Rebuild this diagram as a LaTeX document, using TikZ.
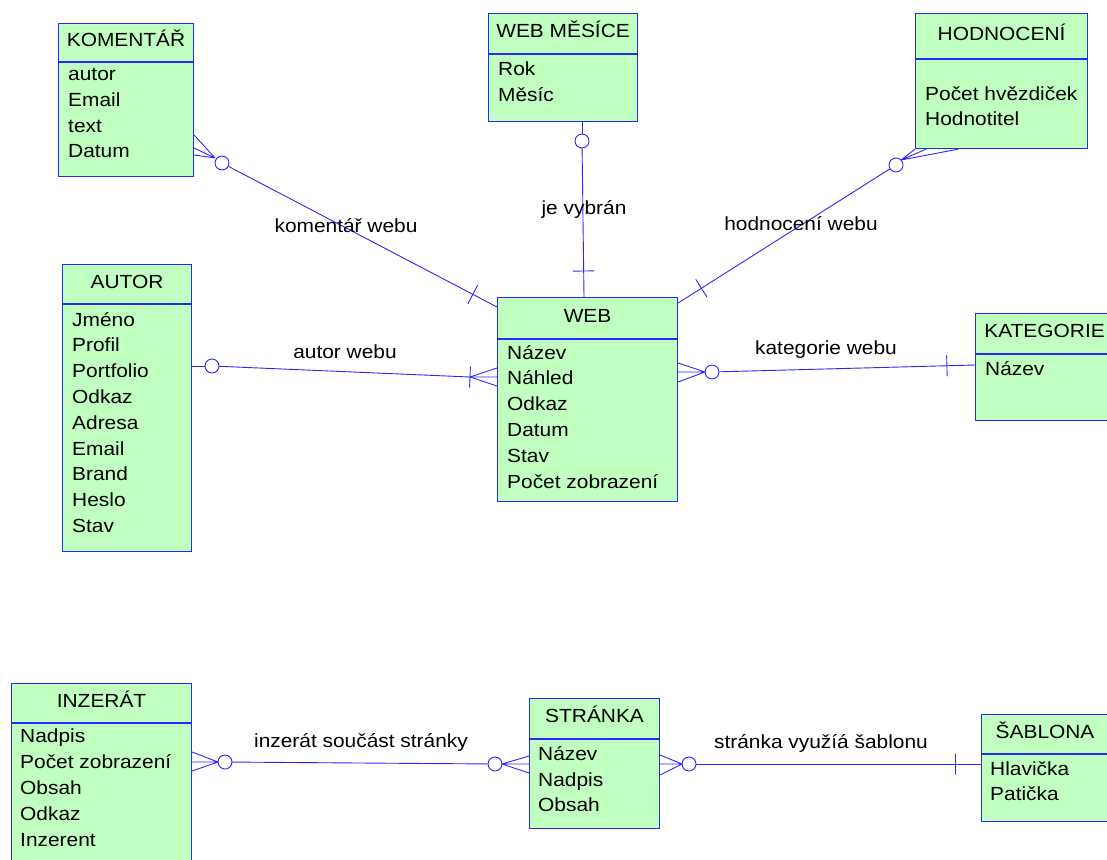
\documentclass[tikz,border=0pt]{standalone}
\usepackage{fontspec}
\setmainfont{Liberation Sans}[FakeStretch=1.1]
\usetikzlibrary{calc}
\definecolor{erblue}{RGB}{40,40,255}
\definecolor{ergreen}{RGB}{192,255,192}

\begin{document}
\begin{tikzpicture}[x=1pt,y=-1pt,
head/.style ={rectangle, draw=erblue, fill=ergreen, line width=1.1pt,
  anchor=north west, inner sep=0pt, text height=12pt, text depth=4pt,
  font=\fontsize{19}{26}\selectfont
},
body/.style ={rectangle, draw=erblue, fill=ergreen, line width=1.1pt,
  anchor=north west, inner sep=0pt
},
attr/.style ={anchor=north west, inner sep=0pt, align=left,
  font=\fontsize{19}{25.8}\selectfont
},
zero/.style ={circle, draw=erblue, fill=white, line width=0.9pt,
  minimum size=14pt, inner sep=0pt
},
rel/.style ={draw=erblue, line width=0.9pt},
bar/.style ={draw=erblue, line width=0.9pt, sloped,
  minimum width=0pt, minimum height=21pt, inner sep=0pt
},
lbl/.style ={font=\fontsize{19}{26}\selectfont, inner sep=0pt}
]
\useasboundingbox (0,0) rectangle (1107,859);
\clip (0,0) rectangle (1107,859);

% entities
\node (komh) at (58,23) [head, minimum width=135pt, minimum height=38pt] {KOMENTÁŘ};
\node (kom) at (komh.south west) [body, minimum width=135pt, minimum height=114pt] {};
\node (koma) at (68,68) [attr] {autor\\Email\\text\\Datum};

\node (webmh) at (488,13) [head, minimum width=149pt, minimum height=40pt] {WEB MĚSÍCE};
\node (webm) at (webmh.south west) [body, minimum width=149pt, minimum height=67pt] {};
\node (webma) at (498,62) [attr] {Rok\\Měsíc};

\node (hodh) at (915,13) [head, minimum width=172pt, minimum height=45pt] {HODNOCENÍ};
\node (hod) at (hodh.south west) [body, minimum width=172pt, minimum height=89pt] {};
\node (hoda) at (925,86) [attr] {Počet hvězdiček\\Hodnotitel};

\node (auth) at (62,264) [head, minimum width=129pt, minimum height=39pt] {AUTOR};
\node (aut) at (auth.south west) [body, minimum width=129pt, minimum height=247pt] {};
\node (auta) at (72,312) [attr] {Jméno\\Profil\\Portfolio\\Odkaz\\Adresa\\Email\\Brand\\Heslo\\Stav};

\node (webh) at (497,297) [head, minimum width=180pt, minimum height=41pt] {WEB};
\node (web) at (webh.south west) [body, minimum width=180pt, minimum height=162pt] {};
\node (weba) at (507,345) [attr] {Název\\Náhled\\Odkaz\\Datum\\Stav\\Počet zobrazení};

\node (kath) at (975,313) [head, minimum width=138pt, minimum height=40pt] {KATEGORIE};
\node (kat) at (kath.south west) [body, minimum width=138pt, minimum height=66pt] {};
\node (kata) at (985,361) [attr] {Název};

\node (inzh) at (11,683) [head, minimum width=180pt, minimum height=39pt] {INZERÁT};
\node (inz) at (inzh.south west) [body, minimum width=180pt, minimum height=150pt] {};
\node (inza) at (20,729) [attr] {Nadpis\\Počet zobrazení\\Obsah\\Odkaz\\Inzerent};

\node (strh) at (529,698) [head, minimum width=130pt, minimum height=40pt] {STRÁNKA};
\node (str) at (strh.south west) [body, minimum width=130pt, minimum height=89pt] {};
\node (stra) at (538,746) [attr] {Název\\Nadpis\\Obsah};

\node (sabh) at (981,714) [head, minimum width=127pt, minimum height=39pt] {ŠABLONA};
\node (sab) at (sabh.south west) [body, minimum width=127pt, minimum height=67pt] {};
\node (saba) at (990,761) [attr] {Hlavička\\Patička};

% komentar webu
\node (z1) at (222,163) [zero] {};
\coordinate (k1) at (215,158);
\draw[rel] (z1) -- (webh.west |- 0,307) node[pos=0.91, bar] {};
\draw[rel] (kom.east |- 0,135) -- (k1) (kom.east |- 0,148) -- (k1) (kom.east |- 0,155) -- (k1);
\node (l1) at (346,226) [lbl] {komentář webu};

% je vybran
\node (z2) at (582,141) [zero] {};
\draw[rel] (webm.south -| z2) -- (z2);
\draw[rel] (z2) -- (webh.north -| 584,0) node[pos=0.825, bar] {};
\node (l2) at (584,209) [lbl] {je vybrán};

% hodnoceni webu
\node (z3) at (896,165) [zero] {};
\coordinate (k3) at (901,160);
\draw[rel] (z3) -- (webh.east |- 0,303) node[pos=0.89, bar] {};
\draw[rel] (hod.south west) -- (k3) (hod.south -| 926,0) -- (k3) (hod.south -| 958,0) -- (k3);
\node (l3) at (801,224) [lbl] {hodnocení webu};

% autor webu
\node (z4) at (212,366) [zero] {};
\coordinate (k4) at (470,377);
\draw[rel] (aut.east |- z4) -- (z4);
\draw[rel] (z4) -- (k4) node[pos=1, bar] {} -- (web.west |- k4);
\draw[rel] (web.west |- 0,368) -- (k4) -- (web.west |- 0,386);
\node (l4) at (345,352) [lbl] {autor webu};

% kategorie webu
\node (z5) at (712,372) [zero] {};
\coordinate (k5) at (705,372);
\draw[rel] (web.east |- 0,363) -- (k5) -- (web.east |- 0,382) (web.east |- k5) -- (k5);
\draw[rel] (z5) -- (kat.west |- 0,365) node[pos=0.89, bar] {};
\node (l5) at (826,350) [lbl] {kategorie webu};

% inzerat soucast stranky
\node (z6) at (225,762) [zero] {};
\coordinate (k6) at (218,762);
\draw[rel] (inz.east |- 0,752) -- (k6) -- (inz.east |- 0,771) (inz.east |- k6) -- (k6);
\node (z7) at (495,764) [zero] {};
\coordinate (k7) at (502,764);
\draw[rel] (z6) -- (z7);
\draw[rel] (str.west |- 0,756) -- (k7) -- (str.west |- 0,773) (str.west |- k7) -- (k7);
\node (l6) at (361,742) [lbl] {inzerát součást stránky};

% stranka vyuziva sablonu
\node (z8) at (689,764) [zero] {};
\coordinate (k8) at (682,764);
\draw[rel] (str.east |- 0,755) -- (k8) -- (str.east |- 0,775) (str.east |- k8) -- (k8);
\draw[rel] (z8) -- (sab.west |- z8) node[pos=0.91, bar] {};
\node (l7) at (821,743) [lbl] {stránka využíá šablonu};
\end{tikzpicture}
\end{document}
